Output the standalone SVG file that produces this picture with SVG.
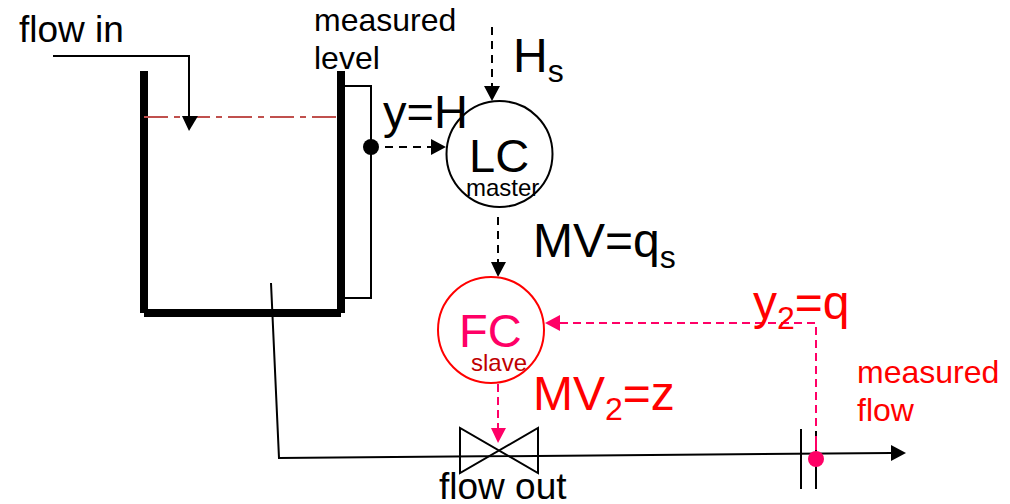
<svg xmlns="http://www.w3.org/2000/svg" width="1010" height="504" viewBox="0 0 1010 504">
<defs>
<style>
text{font-family:"Liberation Sans",Arial,sans-serif;fill:#000}
.r{fill:#f00}
.p{fill:#f06}
.wall{fill:none;stroke:#000;stroke-width:8}
.ln{fill:none;stroke:#000;stroke-width:2}
.dk{fill:none;stroke:#000;stroke-width:2;stroke-dasharray:8 6}
.dp{fill:none;stroke:#f06;stroke-width:2;stroke-dasharray:8 5}
</style>
</defs>
<rect width="1010" height="504" fill="#fff"/>
<g id="tank">
<path class="wall" d="M144 71V313M341 71V313M144 313H341"/>
<path d="M144 117H340" fill="none" stroke="#c0504d" stroke-width="2" stroke-dasharray="24 6 6 6"/>
</g>
<g id="connectors">
<path class="ln" d="M53 56H189V117"/>
<polygon points="182,116 198,116 189,131"/>
<path class="ln" d="M345 86H371V298H345"/>
<path class="dk" d="M385 147H432"/>
<polygon points="431,139 431,155 446,147"/>
<path class="dk" d="M492 27V87"/>
<polygon points="484,86 500,86 492,101"/>
<path class="dk" d="M498 217V262"/>
<polygon points="491,262 506,262 498,277"/>
<path class="ln" d="M271 283L279 458L892 453"/>
<polygon points="891,445 891,461 906,453"/>
<path class="ln" d="M801 429V489M816 431V489"/>
<path class="dp" d="M560 323H816V430"/>
<path d="M816 436V450" fill="none" stroke="#f06" stroke-width="2"/>
<polygon class="p" points="545,323 560,315 560,331"/>
<path class="dp" d="M498 384V428"/>
<polygon class="p" points="491,428 506,428 498,443"/>
</g>
<g id="level-sensor"><circle cx="371" cy="147" r="8"/></g>
<g id="LC">
<circle cx="499.500" cy="154" r="53" fill="none" stroke="#000" stroke-width="2"/>
<text x="469" y="172" font-size="47">LC</text>
<text x="466" y="196" font-size="24">master</text>
</g>
<g id="FC">
<circle cx="491" cy="330" r="53" fill="none" stroke="#f00" stroke-width="2"/>
<text class="p" x="459" y="347" font-size="47">FC</text>
<text x="471" y="371" font-size="24" style="fill:#c00000">slave</text>
</g>
<g id="valve">
<path class="ln" d="M460 428V473L538 428V473Z"/>
</g>
<g id="flow-sensor">
<circle cx="816" cy="459" r="8" class="p"/>
</g>
<g id="labels">
<text x="19" y="42" font-size="37">flow in</text>
<text x="314" y="31" font-size="32">measured</text>
<text x="314" y="69" font-size="32">level</text>
<text x="383" y="128" font-size="47">y=H</text>
<text x="513" y="72" font-size="48">H<tspan font-size="32" dy="10">s</tspan></text>
<text x="533" y="257" font-size="48">MV=q<tspan font-size="32" dy="11">s</tspan></text>
<text class="r" x="533" y="410" font-size="48">MV<tspan font-size="32" dy="10">2</tspan><tspan dy="-10">=z</tspan></text>
<text class="r" x="753" y="319" font-size="48">y<tspan font-size="32" dy="10">2</tspan><tspan dy="-10">=q</tspan></text>
<text class="r" x="857" y="383" font-size="32">measured</text>
<text class="r" x="857" y="421" font-size="32">flow</text>
<text x="439" y="499" font-size="37">flow out</text>
</g>
</svg>
